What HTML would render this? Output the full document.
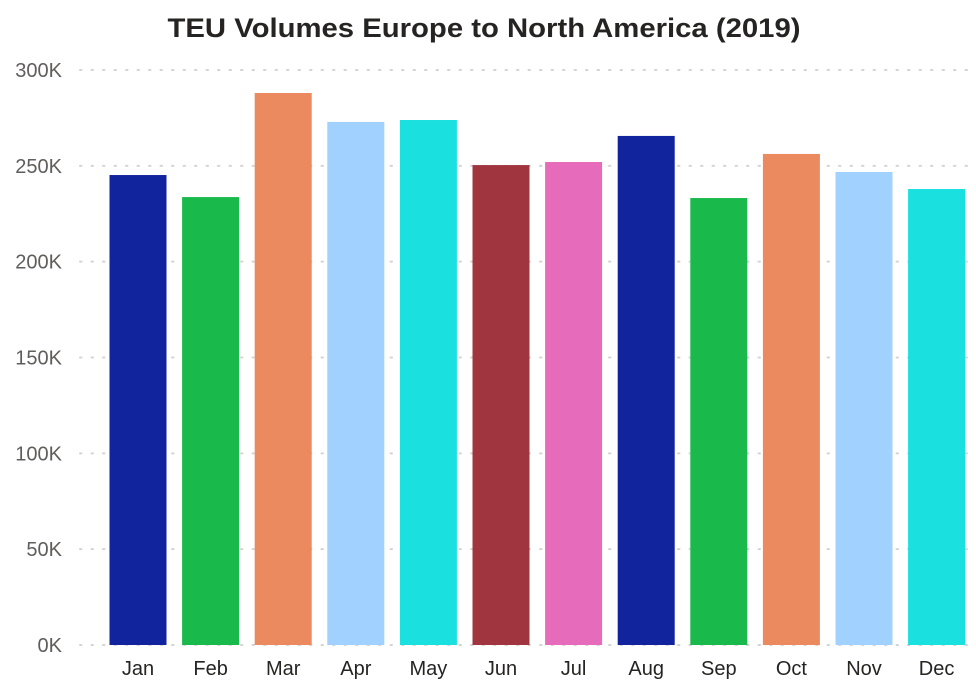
<!DOCTYPE html>
<html><head><meta charset="utf-8"><style>
body{margin:0;background:#fff;font-family:"Liberation Sans",sans-serif;}
</style></head><body>
<svg id="c" width="976" height="683">
<text x="484" y="37" text-anchor="middle" font-size="27" font-weight="bold" fill="#252423" textLength="633" lengthAdjust="spacingAndGlyphs">TEU Volumes Europe to North America (2019)</text>
</svg>
<script>
const categories=["Jan","Feb","Mar","Apr","May","Jun","Jul","Aug","Sep","Oct","Nov","Dec"];
const values=[245.2,233.7,288.0,272.9,273.9,250.4,252.0,265.6,233.2,256.2,246.8,237.9];
const colors=["#12239E","#1AB94C","#EB895F","#A0D1FF","#1AE0E0","#A0353F","#E66BBB","#12239E","#1AB94C","#EB895F","#A0D1FF","#1AE0E0"];
const ticks=[0,50,100,150,200,250,300];
const tickLabels=["0K","50K","100K","150K","200K","250K","300K"];
const svg=document.getElementById('c');const NS="http://www.w3.org/2000/svg";
const y0=645,y1=70,vmax=300;
const y=v=>y0-(v/vmax)*(y0-y1);
const bandStart=101.7,band=72.6,bw=57;
const x=i=>bandStart+i*band;
function mk(t,a){const e=document.createElementNS(NS,t);for(const k in a)e.setAttribute(k,a[k]);svg.appendChild(e);return e;}
ticks.forEach((t,i)=>{
 const l=mk('line',{x1:80,x2:976,y1:y(t),y2:y(t),stroke:'#d4d4d4','stroke-width':2,'stroke-dasharray':'1.5 10','stroke-linecap':'round'});
 
 
 const tx=mk('text',{x:62,y:y(t)+7,'text-anchor':'end','font-size':20,fill:'#605E5C'});
 tx.textContent=tickLabels[i];
 
 
});
categories.forEach((c,i)=>{
 const cx=x(i)+band/2;
 const r=mk('rect',{x:cx-bw/2,y:y(values[i]),width:bw,height:y0-y(values[i]),fill:colors[i]});
 
 
 const t=mk('text',{x:cx,y:675,'text-anchor':'middle','font-size':20,fill:'#252423'});
 t.textContent=c;
 
 
});
</script>
</body></html>
